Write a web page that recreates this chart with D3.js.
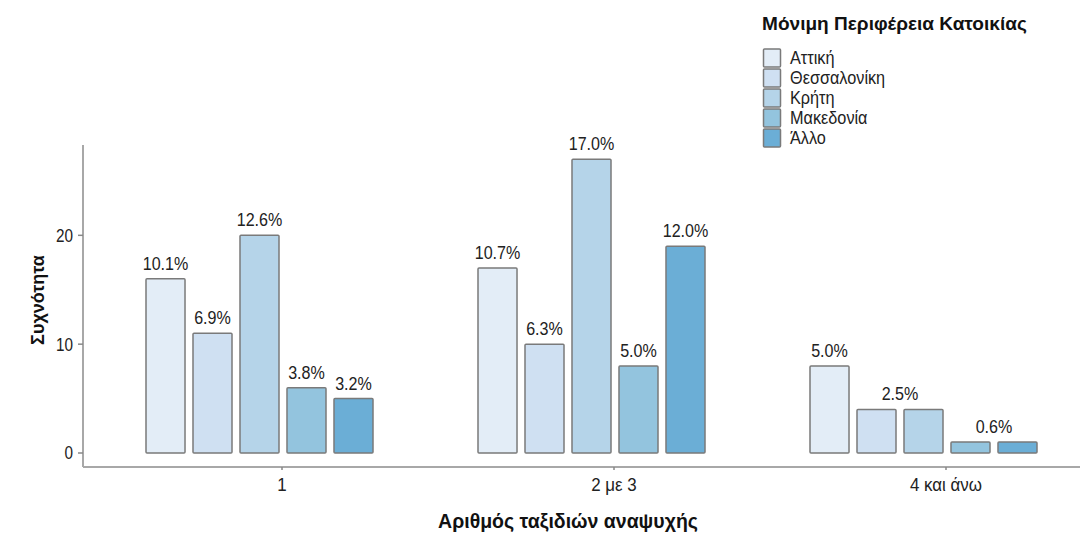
<!DOCTYPE html>
<html>
<head>
<meta charset="utf-8">
<script src="https://cdn.jsdelivr.net/npm/d3@7"></script>
<style>
  html, body { margin: 0; padding: 0; background: #fff; }
  svg { display: block; font-family: "Liberation Sans", Arial, sans-serif; }
</style>
</head>
<body>
<svg id="chart" width="1080" height="535"></svg>
<script>
const groups = ["1", "2 με 3", "4 και άνω"];
const regions = ["Αττική", "Θεσσαλονίκη", "Κρήτη", "Μακεδονία", "Άλλο"];
const colors = ["#e3edf7", "#cfe0f2", "#b5d4e9", "#93c4de", "#6baed6"];
const countsG1 = [16, 11, 20, 6, 5];
const countsG2 = [17, 10, 27, 8, 19];
const countsG3 = [8, 4, 4, 1, 1];
const labelsG1 = ["10.1%", "6.9%", "12.6%", "3.8%", "3.2%"];
const labelsG2 = ["10.7%", "6.3%", "17.0%", "5.0%", "12.0%"];
const labelsG3 = ["5.0%", "2.5%", "", "0.6%", ""];
const yTicks = [0, 10, 20];
const yTitle = "Συχνότητα";
const xTitle = "Αριθμός ταξιδιών αναψυχής";
const legendTitle = "Μόνιμη Περιφέρεια Κατοικίας";

const counts = [countsG1, countsG2, countsG3];
const labels = [labelsG1, labelsG2, labelsG3];
const data = [];
groups.forEach((g, gi) => regions.forEach((r, ri) => {
  data.push({ group: g, region: r, ri, value: counts[gi][ri], label: labels[gi][ri] });
}));

const svg = d3.select("#chart");
const axisLeft = 83, axisBottom = 467, axisTop = 145, axisRight = 1080;

// horizontally squeeze/stretch text around its anchor x
function hscale(sel, k) {
  sel.each(function () {
    const t = d3.select(this);
    const xv = +t.attr("x");
    t.attr("transform", `translate(${xv * (1 - k)},0) scale(${k},1)`);
  });
}

const x = d3.scalePoint().domain(groups).range([282, 946]);
// six dodge slots per group (last one empty), as in the original
const xInner = d3.scaleBand().domain(d3.range(6)).range([-136, 138]).paddingInner(0.17);
const y = d3.scaleLinear().domain([0, 28.3]).range([453, axisTop]);

// axes lines
svg.append("line").attr("x1", axisLeft).attr("x2", axisLeft).attr("y1", axisTop).attr("y2", axisBottom)
  .attr("stroke", "#a8a8a8").attr("stroke-width", 2);
svg.append("line").attr("x1", axisLeft).attr("x2", axisRight).attr("y1", axisBottom).attr("y2", axisBottom)
  .attr("stroke", "#a8a8a8").attr("stroke-width", 2);

// y ticks
const yt = svg.append("g");
yTicks.forEach(t => {
  yt.append("line").attr("x1", axisLeft - 5).attr("x2", axisLeft).attr("y1", y(t)).attr("y2", y(t))
    .attr("stroke", "#888").attr("stroke-width", 1.5);
  yt.append("text").attr("x", axisLeft - 10).attr("y", y(t)).attr("dy", "0.36em")
    .attr("text-anchor", "end").attr("font-size", 18).attr("fill", "#222")
    .text(t).call(hscale, 0.85);
});

// x ticks
const xt = svg.append("g");
groups.forEach(g => {
  xt.append("line").attr("x1", x(g)).attr("x2", x(g)).attr("y1", axisBottom).attr("y2", axisBottom + 3)
    .attr("stroke", "#888").attr("stroke-width", 1.5);
  xt.append("text").attr("x", x(g)).attr("y", 491).attr("text-anchor", "middle")
    .attr("font-size", 18).attr("fill", "#222").text(g).call(hscale, 0.94);
});

// bars
svg.append("g").selectAll("rect").data(data).join("rect")
  .attr("x", d => x(d.group) + xInner(d.ri))
  .attr("y", d => y(d.value))
  .attr("width", xInner.bandwidth())
  .attr("height", d => y(0) - y(d.value))
  .attr("rx", 1).attr("ry", 1)
  .attr("fill", d => colors[d.ri])
  .attr("stroke", "#7a7a7a").attr("stroke-width", 1.5);

// value labels
svg.append("g").selectAll("text").data(data.filter(d => d.label)).join("text")
  .attr("x", d => {
    // labels of equal-height neighbours in the last group sit between the two bars
    if (d.group === groups[2] && (d.ri === 1 || d.ri === 3))
      return x(d.group) + xInner(d.ri) + xInner.bandwidth() + (xInner.step() - xInner.bandwidth()) / 2;
    return x(d.group) + xInner(d.ri) + xInner.bandwidth() / 2;
  })
  .attr("y", d => y(d.value) - 9)
  .attr("text-anchor", "middle").attr("font-size", 18.5).attr("fill", "#222")
  .text(d => d.label).call(hscale, 0.87);

// axis titles
svg.append("text").attr("x", 568).attr("y", 528).attr("text-anchor", "middle")
  .attr("font-size", 19.5).attr("font-weight", "bold").attr("fill", "#111").text(xTitle);
svg.append("text").attr("transform", "translate(44,300) rotate(-90)").attr("text-anchor", "middle")
  .attr("font-size", 18).attr("font-weight", "bold").attr("fill", "#111").text(yTitle);

// legend
const lg = svg.append("g").attr("transform", "translate(762,0)");
lg.append("text").attr("x", 0).attr("y", 30).attr("font-size", 18).attr("font-weight", "bold")
  .attr("fill", "#111").text(legendTitle).call(hscale, 1.06);
regions.forEach((r, i) => {
  lg.append("rect").attr("x", 1.5).attr("y", 49 + i * 20).attr("width", 17).attr("height", 18)
    .attr("fill", colors[i]).attr("stroke", "#7a7a7a").attr("stroke-width", 1.5).attr("rx", 1);
  lg.append("text").attr("x", 28).attr("y", 58 + i * 20).attr("dy", "0.36em")
    .attr("font-size", 17.5).attr("fill", "#222").text(r).call(hscale, 0.93);
});
</script>
</body>
</html>
